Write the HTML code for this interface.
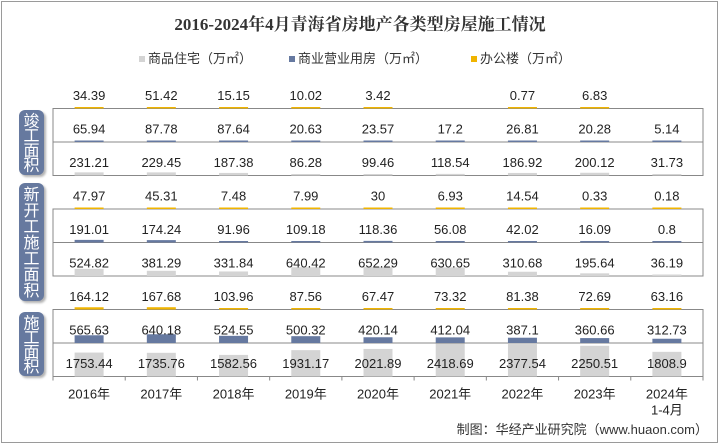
<!DOCTYPE html>
<html><head><meta charset="utf-8"><style>
body{margin:0;background:#fff;}
#c{position:relative;width:719px;height:445px;overflow:hidden;font-family:"Liberation Sans","Noto Sans CJK SC",sans-serif;}
</style></head><body>
<div id="c">
<svg id="s" width="719" height="445" xmlns="http://www.w3.org/2000/svg">
<rect x="1.5" y="1.5" width="716" height="441" fill="#fff" stroke="#9a9a9a"/>
<text x="360" y="30" text-anchor="middle" font-family="Liberation Serif,Noto Serif CJK SC,serif" font-weight="bold" font-size="17" fill="#333">2016-2024年4月青海省房地产各类型房屋施工情况</text>
<g font-size="13" fill="#333">
<rect x="139" y="56" width="6" height="6" fill="#d4d4d4"/>
<text x="148" y="63">商品住宅（万㎡）</text>
<rect x="289" y="56" width="6" height="6" fill="#6679a0"/>
<text x="298" y="63">商业营业用房（万㎡）</text>
<rect x="471" y="56" width="6" height="6" fill="#f0b400"/>
<text x="480" y="63">办公楼（万㎡）</text>
</g>
<g id="g"></g>
<text x="708" y="434" text-anchor="end" font-size="13" fill="#333">制图：华经产业研究院（www.huaon.com）</text>
</svg>
</div>
<script>
const categories=["2016年","2017年","2018年","2019年","2020年","2021年","2022年","2023年","2024年"];
const groupLabels=["竣工面积","新开工施工面积","施工面积"];
const officeDone=[34.39,51.42,15.15,10.02,3.42,null,0.77,6.83,null];
const commDone=[65.94,87.78,87.64,20.63,23.57,17.2,26.81,20.28,5.14];
const resDone=[231.21,229.45,187.38,86.28,99.46,118.54,186.92,200.12,31.73];
const officeNew=[47.97,45.31,7.48,7.99,30,6.93,14.54,0.33,0.18];
const commNew=[191.01,174.24,91.96,109.18,118.36,56.08,42.02,16.09,0.8];
const resNew=[524.82,381.29,331.84,640.42,652.29,630.65,310.68,195.64,36.19];
const officeCon=[164.12,167.68,103.96,87.56,67.47,73.32,81.38,72.69,63.16];
const commCon=[565.63,640.18,524.55,500.32,420.14,412.04,387.1,360.66,312.73];
const resCon=[1753.44,1735.76,1582.56,1931.17,2021.89,2418.69,2377.54,2250.51,1808.9];

const NS="http://www.w3.org/2000/svg";
const g=document.getElementById('g');
function mk(t,a){const e=document.createElementNS(NS,t);for(const k in a)e.setAttribute(k,a[k]);g.appendChild(e);return e;}
const x0=53,x1=703,top0=75,rowH=33.5;
const bw=(x1-x0)/categories.length;
const xC=i=>x0+bw*(i+0.5);
const allVals=[].concat(resCon,resNew,resDone).filter(v=>v!=null);
const maxV=Math.max(...allVals);
const hS=v=>Math.max(1.5,v/maxV*33);
const rows=[[officeDone,"#f0b400","office-done"],[commDone,"#6679a0","commercial-done"],[resDone,"#d4d4d4","residential-done"],
[officeNew,"#f0b400","office-new"],[commNew,"#6679a0","commercial-new"],[resNew,"#d4d4d4","residential-new"],
[officeCon,"#f0b400","office-construction"],[commCon,"#6679a0","commercial-construction"],[resCon,"#d4d4d4","residential-construction"]];
for(let k=0;k<3;k++){
  const y=top0+rowH*(3*k+1);
  const f=mk('rect',{x:x0,y:y,width:x1-x0,height:rowH*2,fill:'none',stroke:'#888','stroke-width':1});
  
  const l=mk('line',{x1:x0,x2:x1,y1:y+rowH,y2:y+rowH,stroke:'#888'});
  
}
rows.forEach((r,ri)=>{
  const [vals,col,nm]=r;
  const bot=top0+rowH*(ri+1);
  vals.forEach((v,i)=>{
    if(v==null)return;
    const h=hS(v);
    const b=mk('rect',{x:xC(i)-14.5,y:bot-h,width:29,height:h,fill:col});
    
    const t=mk('text',{x:xC(i),y:bot-rowH+25,'text-anchor':'middle','font-size':13,fill:'#222'});
    t.textContent=String(v);
    
  });
});
const boxes=[[110,175],[183,301],[312,376]];
groupLabels.forEach((lab,k)=>{
  const [a,b]=boxes[k];
  const r=mk('rect',{x:19,y:a,width:25,height:b-a,rx:6,fill:'#66799f',style:'filter:drop-shadow(2px 2px 1px rgba(0,0,0,0.3))'});
  
  const n=lab.length,step=(b-a-6)/n;
  [...lab].forEach((ch,j)=>{
    const t=mk('text',{x:31.5,y:a+3+step*(j+0.5)+6,'text-anchor':'middle','font-size':16,fill:'#fff'});
    t.textContent=ch;
    
  });
});
const yA=top0+rowH*9;
for(let i=0;i<=categories.length;i++){
  const tk=mk('line',{x1:x0+bw*i,x2:x0+bw*i,y1:yA,y2:yA+4,stroke:'#888'});
  
}
categories.forEach((c,i)=>{
  const t=mk('text',{x:xC(i),y:yA+22,'text-anchor':'middle','font-size':13,fill:'#222'});
  t.textContent=c;
  
});
const t2=mk('text',{x:xC(8),y:yA+38,'text-anchor':'middle','font-size':13,fill:'#222'});
t2.textContent="1-4月";

</script>
</body></html>
